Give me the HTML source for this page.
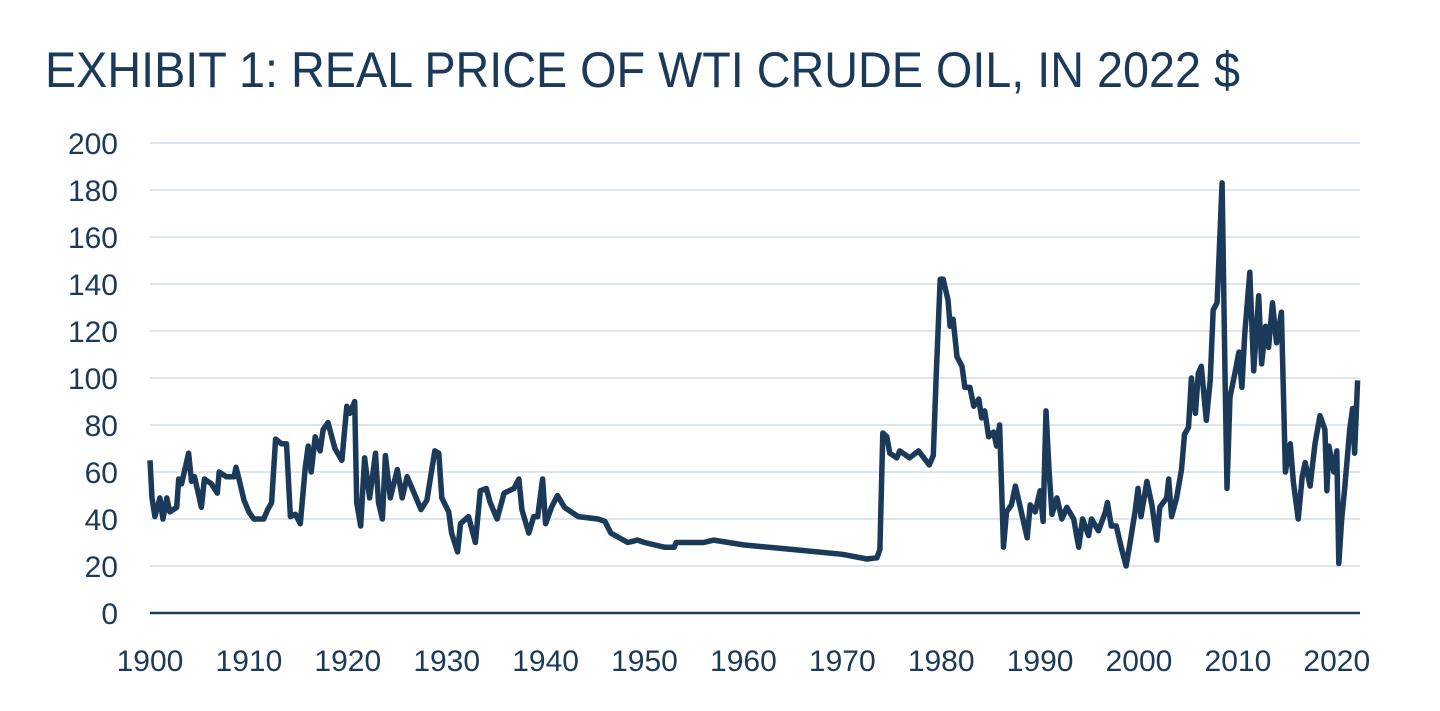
<!DOCTYPE html>
<html><head><meta charset="utf-8"><style>
html,body{margin:0;padding:0;background:#fff;width:1440px;height:711px;overflow:hidden}
svg{display:block}
text{font-family:"Liberation Sans",sans-serif;fill:#1b3a5a}
</style></head><body>
<svg id="chart" width="1440" height="711" viewBox="0 0 1440 711">
<text x="45" y="87" font-size="50" textLength="1195" lengthAdjust="spacingAndGlyphs">EXHIBIT 1: REAL PRICE OF WTI CRUDE OIL, IN 2022 $</text>
<g id="grid"></g>
<g id="yticks"></g>
<g id="xticks"></g>
<g id="series"></g>
</svg>
<script>
const yTickValues=[0,20,40,60,80,100,120,140,160,180,200];
const xTickYears=[1900,1910,1920,1930,1940,1950,1960,1970,1980,1990,2000,2010,2020];
const years=[1900.0,1900.2,1900.5,1901,1901.3,1901.7,1902,1902.7,1902.9,1903.2,1903.9,1904.2,1904.5,1905.2,1905.5,1906.2,1906.8,1907,1907.7,1908.5,1908.7,1909,1909.5,1910,1910.5,1911.5,1911.9,1912.3,1912.7,1913.3,1913.8,1914.2,1914.7,1915.2,1915.7,1916,1916.3,1916.7,1917.2,1917.5,1918,1918.7,1919.4,1919.9,1920.2,1920.7,1920.9,1921.3,1921.7,1922.2,1922.5,1922.8,1923.1,1923.5,1923.8,1924.3,1925,1925.5,1926,1926.7,1927.4,1928,1928.8,1929.2,1929.5,1930.2,1930.5,1931.1,1931.4,1932.2,1932.9,1933.4,1934,1934.4,1935.1,1935.8,1936.8,1937.3,1937.6,1938.3,1938.8,1939.2,1939.7,1940,1940.6,1941.2,1941.9,1943.3,1945.3,1946,1946.6,1948.3,1949.3,1950,1952,1953,1953.2,1956,1957,1960,1965,1970,1972.5,1973.5,1973.8,1974.1,1974.5,1974.8,1975.5,1975.8,1976.8,1977.7,1978.8,1979.2,1979.5,1979.9,1980.2,1980.7,1980.9,1981.2,1981.6,1982.1,1982.4,1982.9,1983.3,1983.8,1984.1,1984.4,1984.8,1985.3,1985.6,1985.9,1986.3,1986.6,1987.1,1987.5,1988.1,1988.7,1989,1989.5,1990,1990.3,1990.6,1990.9,1991.2,1991.7,1992.2,1992.7,1993.4,1993.9,1994.3,1994.9,1995.2,1995.9,1996.6,1996.8,1997.2,1997.7,1998.2,1998.7,1999.1,1999.6,1999.9,2000.2,2000.8,2001.3,2001.8,2002.1,2002.8,2003,2003.3,2003.8,2004.3,2004.6,2005,2005.3,2005.7,2006,2006.3,2006.8,2007.2,2007.5,2007.9,2008.4,2008.7,2008.9,2009.2,2009.7,2010.1,2010.4,2010.7,2011.2,2011.6,2012.1,2012.4,2012.8,2013.1,2013.5,2013.9,2014.4,2014.8,2015.3,2015.6,2016.1,2016.5,2016.8,2017.3,2017.8,2018.3,2018.8,2019,2019.2,2019.7,2020,2020.2,2020.5,2020.8,2021.3,2021.6,2021.8,2022.1];
const prices=[65,49,41,49,40,49,43,45,57,55,68,56,58,45,57,55,51,60,58,58,62,57,48,43,40,40,44,47,74,72,72,41,42,38,62,71,60,75,69,78,81,70,65,88,85,90,47,37,66,49,58,68,47,40,67,49,61,49,58,51,44,48,69,68,49,43,34,26,38,41,30,52,53,47,40,51,53,57,44,34,41,41,57,38,45,50,45,41,40,39,34,30,31,30,28,28,30,30,31,29,27,25,23,23.5,27,76.6,75,68,66,69,66,69,63,67,102,142,142,133,122,125,109,105,96,96,88,91,83,86,75,77,71,80,28,43,46,54,43,32,46,43,52,39,86,61,42,49,40,45,40,28,40,33,40,35,43,47,37,37,28,20,30,43,53,41,56,46,31,45,49,57,41,49,61,76,79,100,85,102,105,82,99,129,132,183,102,53,92,102,111,96,119,145,103,135,106,122,113,132,115,128,60,72,56,40,58,64,54,72,84,78,52,71,60,69,21,40,53,78,87,68,99];
const NS='http://www.w3.org/2000/svg';
const X0=150,XPY=9.89,Y0=613,YPU=2.35,XR=1360;
const xs=y=>X0+(y-1900)*XPY, ys=v=>Y0-v*YPU;
const grid=document.getElementById('grid'),yt=document.getElementById('yticks'),xt=document.getElementById('xticks'),ser=document.getElementById('series');
yTickValues.forEach(v=>{
  const l=document.createElementNS(NS,'line');
  
  
  l.setAttribute('x1',X0);l.setAttribute('x2',XR);l.setAttribute('y1',ys(v));l.setAttribute('y2',ys(v));
  l.setAttribute('stroke',v===0?'#1b3a5a':'#d3dde7');l.setAttribute('stroke-width',v===0?2.5:1.5);
  grid.appendChild(l);
  const t=document.createElementNS(NS,'text');
  
  
  t.setAttribute('x',118);t.setAttribute('y',ys(v)+11);t.setAttribute('text-anchor','end');t.setAttribute('font-size','30');
  t.textContent=v;yt.appendChild(t);
});
xTickYears.forEach(y=>{
  const t=document.createElementNS(NS,'text');
  
  
  t.setAttribute('x',xs(y));t.setAttribute('y',671);t.setAttribute('text-anchor','middle');t.setAttribute('font-size','30');
  t.textContent=y;xt.appendChild(t);
});
const p=document.createElementNS(NS,'path');


p.setAttribute('d',years.map((y,i)=>(i?'L':'M')+xs(y).toFixed(1)+' '+ys(prices[i]).toFixed(1)).join(' '));
p.setAttribute('fill','none');p.setAttribute('stroke','#1b3a5a');p.setAttribute('stroke-width','5.5');p.setAttribute('stroke-linejoin','round');
ser.appendChild(p);
</script>
</body></html>
